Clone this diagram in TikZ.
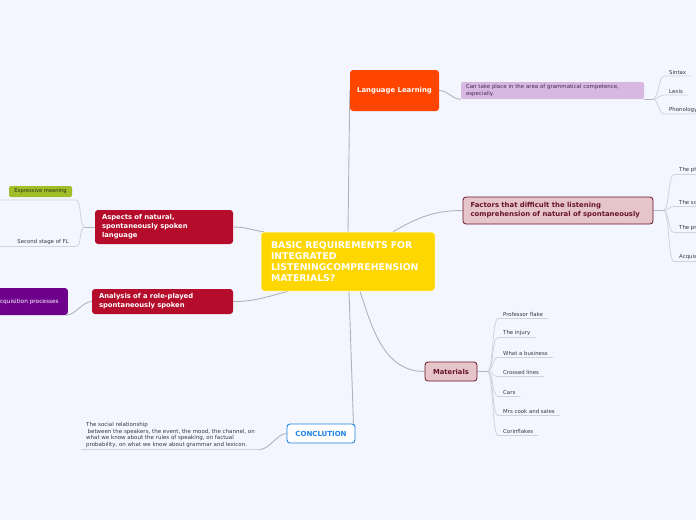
\documentclass[tikz,border=0pt]{standalone}
\usepackage{fontspec}
\setmainfont{DejaVu Sans}
\usetikzlibrary{calc}
\definecolor{bgc}{RGB}{243,246,254}
\definecolor{yel}{RGB}{255,215,0}
\definecolor{orng}{RGB}{255,69,0}
\definecolor{lilac}{RGB}{216,184,224}
\definecolor{lilactext}{RGB}{70,40,80}
\definecolor{pinkf}{RGB}{230,197,202}
\definecolor{maroon}{RGB}{105,20,40}
\definecolor{crim}{RGB}{180,12,42}
\definecolor{olive}{RGB}{160,190,40}
\definecolor{olivetext}{RGB}{40,45,20}
\definecolor{violet}{RGB}{110,0,140}
\definecolor{blu}{RGB}{30,130,230}
\definecolor{mainline}{RGB}{178,178,184}
\definecolor{leafline}{RGB}{208,211,222}
\definecolor{txt}{RGB}{55,55,65}
\newcommand\fsz[2]{\fontsize{#1}{#2}\selectfont}
\pgfdeclarelayer{bgfill}
\pgfdeclarelayer{lines}
\pgfsetlayers{bgfill,lines,main}
\begin{document}
\begin{tikzpicture}[x=1pt,y=-1pt,
  box/.style={rounded corners=3pt, inner sep=0pt, align=center},
  mainc/.style={draw=mainline, line width=0.9pt},
  leafc/.style={draw=leafline, line width=0.8pt},
  leaf/.style={inner xsep=5pt, inner ysep=1.5pt, anchor=south west, font=\fsz{5.4}{6.5}, text=txt},
  mm/.style={to path={.. controls +(#1,0) and +(-#1,0) .. (\tikztotarget)}},
  mm/.default=6]
\useasboundingbox (0,0) rectangle (696,520);
\begin{pgfonlayer}{bgfill}
  \fill[bgc] (0,0) rectangle (696,520);
\end{pgfonlayer}
\coordinate (edgeL) at (0,0);
\coordinate (edgeR) at (700,0);

% central topic
\node[box, fill=yel, draw=white, line width=0.5pt, text=white, font=\fsz{9.3}{11}\bfseries,
      text width=154pt, inner xsep=10pt, align=left, minimum height=59pt] (center) at (348,261.5)
  {BASIC REQUIREMENTS FOR\\ INTEGRATED\\ LISTENINGCOMPREHENSION\\ MATERIALS?};

% Language learning branch
\node[box, fill=orng, text=white, font=\fsz{6.9}{8}\bfseries, minimum width=89pt, minimum height=41pt] (lang) at (394.5,90.5) {Language Learning};
\node[box, fill=lilac, text=lilactext, font=\fsz{5.45}{7}, text width=173pt, inner xsep=5pt, align=left,
      minimum height=17pt, rounded corners=2pt] (gram) at (552.5,90.5)
  {Can take place in the area of grammatical competence,\\ especially.};
\node[leaf] (sintax) at (664,76) {Sintax};
\node[leaf] (lexis) at (664,95) {Lexis};
\node[leaf] (phon) at (664,114) {Phonology};

% Factors branch
\node[box, fill=pinkf, draw=maroon, line width=0.8pt, text=maroon, font=\fsz{6.9}{9}\bfseries,
      text width=175pt, inner xsep=7.5pt, align=left, minimum height=27pt] (factors) at (558,210.5)
  {Factors that difficult the listening\\ comprehension of natural of spontaneously};
\node[leaf] (f1) at (674,174.5) {The ph};
\node[leaf] (f2) at (674,206.5) {The sc};
\node[leaf] (f3) at (674,232.5) {The pr};
\node[leaf] (f4) at (674,261.5) {Acquis};

% Materials branch
\node[box, fill=pinkf, draw=maroon, line width=0.8pt, text=maroon, font=\fsz{6.8}{8}\bfseries,
      minimum width=52pt, minimum height=19pt] (mat) at (451,371.5) {Materials};
\node[leaf] (m1) at (498,318.5) {Professor flake};
\node[leaf] (m2) at (498,337.5) {The injury};
\node[leaf] (m3) at (498,357.5) {What a business};
\node[leaf] (m4) at (498,376.5) {Crossed lines};
\node[leaf] (m5) at (498,396.5) {Cars};
\node[leaf] (m6) at (498,415.5) {Mrs cook and sales};
\node[leaf] (m7) at (498,435.5) {Corinflakes};

% Aspects branch
\node[box, fill=crim, text=white, font=\fsz{6.8}{9}\bfseries, text width=124pt, inner xsep=7pt, align=left,
      minimum height=34pt] (aspects) at (164,227)
  {Aspects of natural,\\ spontaneously spoken\\ language};
\node[box, fill=olive, text=olivetext, font=\fsz{5.2}{6}, minimum width=63pt, minimum height=11pt,
      rounded corners=2pt] (expr) at (40.5,191.5) {Expressive meaning};
\coordinate (e1) at (76,200);
\node[leaf, anchor=south east, inner xsep=7pt] (second) at (76,246.5) {Second stage of FL};

% Analysis branch
\node[box, fill=crim, text=white, font=\fsz{6.8}{9}\bfseries, text width=127pt, inner xsep=7pt, align=left,
      minimum height=25pt] (analysis) at (162.5,301.5)
  {Analysis of a role-played\\ spontaneously spoken};
\node[box, fill=violet, text=white, font=\fsz{5.8}{7}, minimum width=81pt, minimum height=27pt] (acq) at (27.4,301.5)
  {Acquisition processes};

% Conclusion branch
\node[box, fill=white, draw=blu, line width=0.9pt, text=blu, font=\fsz{7}{8}\bfseries,
      minimum width=68pt, minimum height=19pt] (concl) at (321,433.5) {CONCLUTION};
\node[leaf, font=\fsz{5.5}{6.7}, align=left] (social) at (81,449.5)
  {The social relationship\\
   \hspace*{1.5pt}between the speakers, the event, the mood, the channel, on\\
   what we know about the rules of speaking, on factual\\
   probability, on what we know about grammar and lexicon.};

\begin{pgfonlayer}{lines}
  % main connectors
  \draw[mainc] (center.north) -- (lang.west);
  \draw[mainc] ($(center.north)+(45,0)$) to[out=30,in=180] (factors.west);
  \draw[mainc] ($(center.north west)+(3,0)$) to[out=172,in=0] (aspects.east);
  \draw[mainc] ($(center.south west)+(27,0)$) to[out=-165,in=0] (analysis.east);
  \draw[mainc] ($(center.south)+(12,0)$) to[out=-72,in=180] (mat.west);
  \draw[mainc] ($(center.south)+(1,0)$) -- ($(concl.north east)+(-2,0)$);
  % language learning
  \draw[mainc] (lang.east) to[mm=9] (gram.south west);
  \draw[mainc] (gram.south east) -- ++(9,0) coordinate (pg);
  \draw[leafc] (pg) to[mm=5] (sintax.south west) -- (sintax.south east);
  \draw[leafc] (pg) to[mm=5] (lexis.south west) -- (lexis.south east);
  \draw[leafc] (pg) to[mm=5] (phon.south west) -- (phon.south west -| edgeR);
  % factors
  \draw[mainc] (factors.east) -- ++(10,0) coordinate (pf);
  \draw[leafc] (pf) to[mm=6] (f1.south west) -- (f1.south west -| edgeR);
  \draw[leafc] (pf) to[mm=6] (f2.south west) -- (f2.south west -| edgeR);
  \draw[leafc] (pf) to[mm=6] (f3.south west) -- (f3.south west -| edgeR);
  \draw[leafc] (pf) to[mm=6] (f4.south west) -- (f4.south west -| edgeR);
  % materials
  \draw[mainc] (mat.east) -- ++(10,0) coordinate (pm);
  \foreach \m in {m1,m2,m3,m4,m5,m6,m7}
    \draw[leafc] (pm) to[mm=6] (\m.south west) -- (\m.south east);
  % aspects
  \draw[mainc] (aspects.west) -- ++(-10,0) coordinate (pa);
  \draw[leafc] (pa) to[mm=-6] (e1) -- (e1 -| edgeL);
  \draw[leafc] (pa) to[mm=-6] (second.south east) -- (second.south east -| edgeL);
  % analysis
  \draw[mainc] (analysis.west) to[mm=-9] ($(acq.south east)+(-2,0)$);
  % conclusion
  \draw[mainc] (concl.west) to[mm=-9] (social.south east);
  \draw[leafc] (social.south east) -- (social.south west);
\end{pgfonlayer}
\end{tikzpicture}
\end{document}
